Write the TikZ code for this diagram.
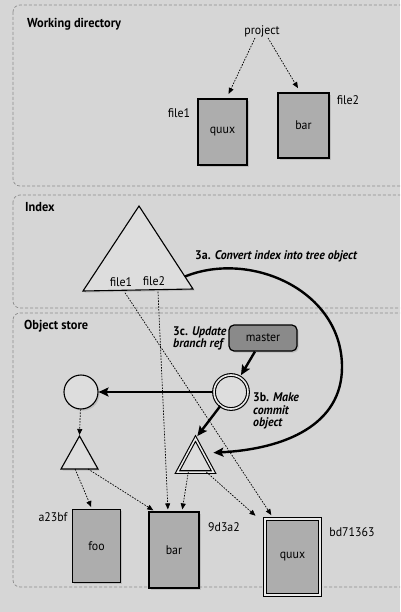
\documentclass[tikz,border=0pt]{standalone}
\usepackage{fontspec}
\setmainfont{PT Sans}[FakeStretch=0.95]
\usetikzlibrary{arrows.meta,calc,shadows}
\definecolor{pagebg}{HTML}{D6D6D6}
\definecolor{panelgray}{HTML}{8E8E8E}
\definecolor{boxgray}{HTML}{ADADAD}
\definecolor{mastergray}{HTML}{8A8A8A}
\definecolor{shapefill}{HTML}{DDDDDD}
\definecolor{gapcol}{HTML}{EAEAEA}
\begin{document}
\begin{tikzpicture}[x=1pt,y=-1pt,
  panel/.style={draw=panelgray, dash pattern=on 3pt off 2pt, line width=0.7pt, rounded corners=7pt},
  title/.style={font=\bfseries\fontsize{13}{15}\selectfont, anchor=west, inner sep=0pt},
  lbl/.style={font=\fontsize{12.5}{14}\selectfont, inner sep=1pt},
  steptext/.style={font=\bfseries\itshape\fontsize{12.5}{12.5}\selectfont, align=left, anchor=west, inner sep=0pt},
  softshadow/.style={drop shadow={opacity=0.3, shadow xshift=1.6pt, shadow yshift=-1.6pt}},
  filebox/.style={draw, line width=1.2pt, fill=boxgray, inner sep=0pt, font=\fontsize{12.5}{14}\selectfont, softshadow},
  trishape/.style={draw, line width=1.1pt, fill=shapefill, line join=miter, softshadow},
  dasharrow/.style={-{Triangle[length=6pt,width=5pt]}, line width=0.7pt, dash pattern=on 1.6pt off 1.3pt, shorten >=2pt},
  thickarrow/.style={-{Stealth[length=10pt,width=9pt,inset=2pt]}, line width=2.4pt}
]
\clip (0,0) rectangle (400,612);
\fill[pagebg] (0,0) rectangle (400,612);

% panels
\draw[panel] (13,5) rectangle (412,186);
\draw[panel] (13,195) rectangle (412,308);
\draw[panel] (13,313) rectangle (412,587);

\node[title] (twd) at (27,24) {Working directory};
\node[title] (tix) at (25,207) {Index};
\node[title] (tos) at (24,326) {Object store};

% working directory
\node[lbl] (project) at (262,31) {project};
\node[filebox, minimum width=49pt, minimum height=66pt] (wquux) at (222.5,132) {quux};
\node[filebox, minimum width=51pt, minimum height=65pt] (wbar) at (303.5,125.5) {bar};
\node[lbl] (wf1) at (179,113) {file1};
\node[lbl] (wf2) at (348,100) {file2};
\draw[dasharrow, shorten >=5pt] ([xshift=-7pt]project.south) -- ([xshift=4pt]wquux.north);
\draw[dasharrow, shorten >=5pt] ([xshift=6pt]project.south) -- ([xshift=-3pt]wbar.north);

% index
\coordinate (ia) at (139,206);
\coordinate (ibl) at (83,291);
\coordinate (ibr) at (193,289);
\draw[trishape] (ia) -- (ibl) -- (ibr) -- cycle;
\node[lbl] (if1) at (121,282) {file1};
\node[lbl] (if2) at (154,281) {file2};
\node[steptext] (l3a) at (195,256) {\upshape 3a. \itshape Convert index into tree object};

% object store
\node[steptext] (l3c) at (173,338.5) {\upshape 3c. \itshape Update\\branch ref};
\node[draw, line width=1.2pt, fill=mastergray, rounded corners=5pt, minimum width=68pt, minimum height=26pt, font=\fontsize{12.5}{14}\selectfont, softshadow] (master) at (263,338) {master};
\node[circle, draw, line width=1.1pt, double=gapcol, double distance=1.6pt, fill=shapefill, minimum size=34pt, softshadow] (dc) at (231,392) {};
\node[circle, draw, line width=1.1pt, fill=shapefill, minimum size=34pt, softshadow] (sc) at (81,392) {};
\node[steptext] (l3b) at (253,411) {\upshape 3b. \itshape Make\\commit\\object};

% triangles
\coordinate (sta) at (79.5,436);
\coordinate (stl) at (61,469);
\coordinate (str) at (98,469);
\draw[trishape] (sta) -- (stl) -- (str) -- cycle;
\coordinate (dta) at (195.5,438.5);
\coordinate (dtl) at (177.5,472);
\coordinate (dtr) at (213.5,472);
\draw[trishape, double=gapcol, double distance=1.5pt] (dta) -- (dtl) -- (dtr) -- cycle;

% blobs
\node[filebox, minimum width=48pt, minimum height=73pt] (ofoo) at (96.5,546) {foo};
\node[filebox, minimum width=50pt, minimum height=76pt] (obar) at (174,550) {bar};
\node[filebox, double=gapcol, double distance=1.5pt, minimum width=55pt, minimum height=76pt] (oquux) at (292.5,557) {quux};
\node[lbl] (la23) at (53,517) {a23bf};
\node[lbl] (l9d) at (224,527) {9d3a2};
\node[lbl] (lbd) at (352,532) {bd71363};

% thick arrows
\draw[thickarrow, shorten >=2pt] (master) -- (dc);
\draw[thickarrow] (dc) -- (sc);
\draw[thickarrow, shorten >=3pt] (dc) -- (dta);
\draw[thickarrow, shorten >=10pt] ($(ia)!0.85!(ibr)$) .. controls (250,250) and (342,290) .. (342,367) .. controls (342,425) and (285,449) .. ($(dta)!0.44!(dtr)$);

% dashed arrows
\draw[dasharrow, shorten >=1pt] (sc) -- (sta);
\draw[dasharrow] ($(stl)!0.38!(str)$) -- ([xshift=-4.5pt]ofoo.north);
\draw[dasharrow] ($(stl)!0.73!(str)$) -- ([xshift=-19pt]obar.north);
\draw[dasharrow] ([xshift=4pt,yshift=-5pt]if2.south) -- ([xshift=-6pt]obar.north);
\draw[dasharrow] ($(dtl)!0.3!(dtr)$) -- ([xshift=8pt]obar.north);
\draw[dasharrow, shorten >=4pt] ($(dtl)!0.8!(dtr)$) -- ([xshift=-34pt]oquux.north);
\draw[dasharrow, shorten >=4pt] ([xshift=4pt,yshift=-5pt]if1.south) -- ([xshift=-19pt]oquux.north);
\end{tikzpicture}
\end{document}
